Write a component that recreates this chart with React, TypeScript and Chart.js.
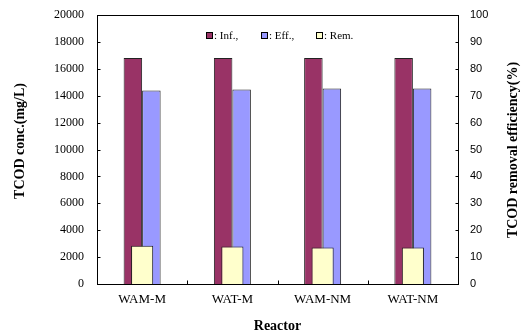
import React, { useEffect, useRef } from "react";
import { Chart, registerables } from "chart.js";

Chart.register(...registerables);

const categories = ["WAM-M", "WAT-M", "WAM-NM", "WAT-NM"];
const infValues = [16800, 16800, 16800, 16800];
const effValues = [14380, 14460, 14530, 14530];
const remValues = [14.2, 13.9, 13.6, 13.6];
const leftTicks = [0, 2000, 4000, 6000, 8000, 10000, 12000, 14000, 16000, 18000, 20000];
const rightTicks = [0, 10, 20, 30, 40, 50, 60, 70, 80, 90, 100];
const legendLabels = [": Inf.,", ": Eff.,", ": Rem."];
const colors = ["#993366", "#9999FF", "#FFFFCC"];

const SERIF = "'Liberation Serif', 'Times New Roman', serif";
const SANS = "'Liberation Sans', Arial, sans-serif";

const decorPlugin = {
  id: "decor",
  afterDraw(chart: any) {
    const ctx = chart.ctx;
    const a = chart.chartArea;
    const L = Math.round(a.left) + 0.5;
    const R = Math.round(a.right) + 0.5;
    const T = Math.round(a.top) + 0.5;
    const B = Math.round(a.bottom) + 0.5;
    ctx.save();
    ctx.strokeStyle = "#000";
    ctx.lineWidth = 1;
    ctx.strokeRect(L, T, R - L, B - T);
    ctx.beginPath();
    const xs = chart.scales.x;
    for (let i = 0; i < categories.length - 1; i++) {
      const px = Math.round((xs.getPixelForValue(i) + xs.getPixelForValue(i + 1)) / 2) + 0.5;
      ctx.moveTo(px, B);
      ctx.lineTo(px, B - 4);
    }
    const ys = chart.scales.y;
    leftTicks.forEach((v) => {
      const py = Math.round(ys.getPixelForValue(v)) + 0.5;
      ctx.moveTo(L, py);
      ctx.lineTo(L + 3, py);
    });
    const ys2 = chart.scales.y2;
    rightTicks.forEach((v) => {
      const py = Math.round(ys2.getPixelForValue(v)) + 0.5;
      ctx.moveTo(R, py);
      ctx.lineTo(R - 3, py);
    });
    ctx.stroke();
    const boxX = [206, 261, 316];
    ctx.font = "11px " + SERIF;
    ctx.textBaseline = "middle";
    ctx.textAlign = "left";
    for (let i = 0; i < 3; i++) {
      ctx.fillStyle = colors[i];
      ctx.fillRect(boxX[i], 32, 7, 7);
      ctx.strokeStyle = "#000";
      ctx.strokeRect(boxX[i] + 0.5, 32.5, 6, 6);
      ctx.fillStyle = "#000";
      ctx.fillText(legendLabels[i], boxX[i] + 8, 36);
    }
    ctx.font = "bold 14px " + SERIF;
    ctx.textAlign = "center";
    ctx.fillText("Reactor", (a.left + a.right) / 2, 326);
    ctx.save();
    ctx.translate(20, 141);
    ctx.rotate(-Math.PI / 2);
    ctx.fillText("TCOD conc.(mg/L)", 0, 0);
    ctx.restore();
    ctx.save();
    ctx.translate(513, 150);
    ctx.rotate(-Math.PI / 2);
    ctx.fillText("TCOD removal efficiency(%)", 0, 0);
    ctx.restore();
    ctx.restore();
  },
};

export default function App() {
  const ref = useRef<HTMLCanvasElement>(null);
  useEffect(() => {
    const chart = new Chart(ref.current as HTMLCanvasElement, {
      type: "bar",
      data: {
        labels: categories,
        datasets: [
          {
            label: "Inf.",
            data: infValues,
            backgroundColor: colors[0],
            borderColor: "#222",
            borderWidth: 1,
            yAxisID: "y",
            order: 1,
            barPercentage: 1,
            categoryPercentage: 0.41,
          },
          {
            label: "Eff.",
            data: effValues,
            backgroundColor: colors[1],
            borderColor: "#222",
            borderWidth: 1,
            yAxisID: "y",
            order: 1,
            barPercentage: 1,
            categoryPercentage: 0.41,
          },
          {
            label: "Rem.",
            data: remValues,
            backgroundColor: colors[2],
            borderColor: "#222",
            borderWidth: 1,
            yAxisID: "y2",
            order: 0,
            grouped: false,
            barPercentage: 1,
            categoryPercentage: 0.245,
          },
        ],
      },
      options: {
        animation: false,
        responsive: false,
        maintainAspectRatio: false,
        layout: { padding: { top: 15, left: 0, right: 0, bottom: 0 } },
        plugins: { legend: { display: false }, tooltip: { enabled: false } },
        scales: {
          x: {
            type: "category",
            offset: true,
            grid: { display: false, drawTicks: false },
            border: { display: false },
            ticks: { color: "#000", font: { family: SERIF, size: 13 }, padding: 8, maxRotation: 0 },
            afterFit: (s: any) => { s.height = 52; s.paddingLeft = 0; s.paddingRight = 0; },
          },
          y: {
            position: "left",
            min: 0,
            max: 20000,
            afterBuildTicks: (s: any) => { s.ticks = leftTicks.map((v) => ({ value: v })); },
            grid: { display: false, drawTicks: false },
            border: { display: false },
            ticks: { color: "#000", font: { family: SERIF, size: 12 }, padding: 13, callback: (v: any) => String(v) },
            afterFit: (s: any) => { s.width = 97; s.paddingTop = 0; s.paddingBottom = 0; },
          },
          y2: {
            position: "right",
            min: 0,
            max: 100,
            afterBuildTicks: (s: any) => { s.ticks = rightTicks.map((v) => ({ value: v })); },
            grid: { display: false, drawTicks: false },
            border: { display: false },
            ticks: { color: "#000", font: { family: SANS, size: 11 }, padding: 12, callback: (v: any) => String(v) },
            afterFit: (s: any) => { s.width = 68; s.paddingTop = 0; s.paddingBottom = 0; },
          },
        },
      },
      plugins: [decorPlugin],
    } as any);
    return () => chart.destroy();
  }, []);
  return (
    <div style={{ position: "fixed", left: 0, top: 0, width: 526, height: 336, background: "#fff" }}>
      <canvas ref={ref} width={526} height={336} style={{ display: "block", width: 526, height: 336 }} />
    </div>
  );
}
